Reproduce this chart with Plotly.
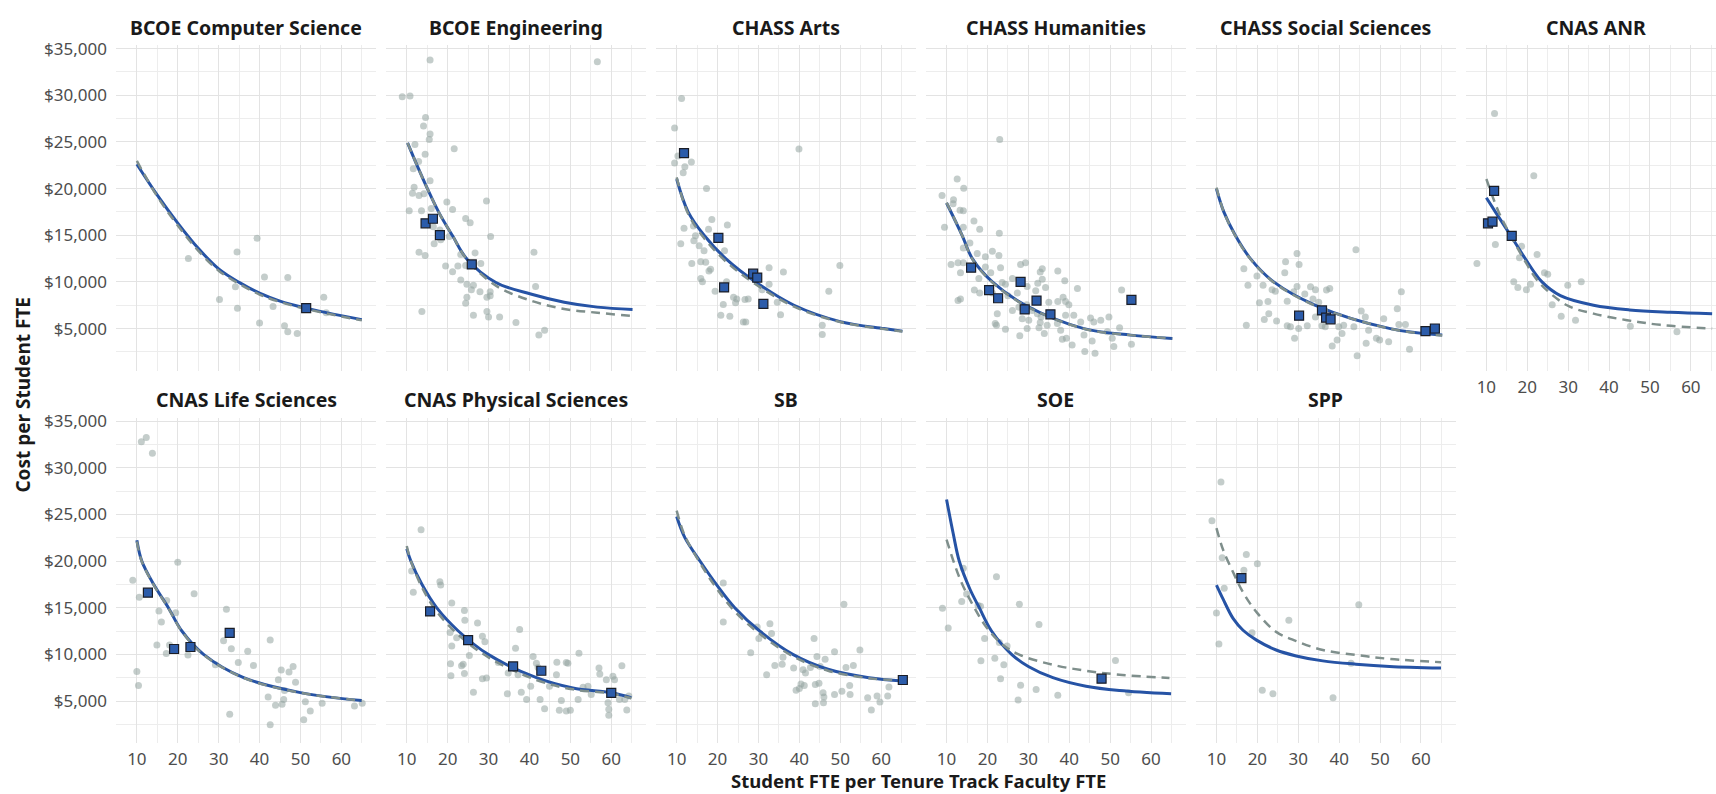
import plotly.graph_objects as go

# ---------------- data ----------------
panels = ["BCOE Computer Science", "BCOE Engineering", "CHASS Arts", "CHASS Humanities",
          "CHASS Social Sciences", "CNAS ANR", "CNAS Life Sciences", "CNAS Physical Sciences",
          "SB", "SOE", "SPP"]

x_ticks = [10, 20, 30, 40, 50, 60]
y_ticks = [5000, 10000, 15000, 20000, 25000, 30000, 35000]
y_tick_labels = ["$5,000", "$10,000", "$15,000", "$20,000", "$25,000", "$30,000", "$35,000"]

# BCOE Computer Science
cs_pts_x = [22.6, 34.5, 39.4, 41.2, 46.9, 30.2, 34.6, 34.1, 43.3, 40.0, 46.1, 46.9, 49.2, 55.7, 56.3]
cs_pts_y = [12507, 13211, 14690, 10536, 10466, 8107, 7192, 9480, 7368, 5608, 5291, 4658, 4482, 8354, 6700]
cs_sq_x = [51.4]
cs_sq_y = [7192]
cs_fit_x = [10, 15, 20, 25, 30, 35, 40, 45, 51.4, 58, 65]
cs_fit_y = [22610, 19300, 16300, 13600, 11400, 9950, 8800, 7950, 7190, 6550, 5960]
cs_alt_x = [10, 15, 20, 25, 30, 35, 40, 45, 51.4, 58, 65]
cs_alt_y = [22960, 19150, 16050, 13350, 11200, 9800, 8650, 7850, 7100, 6480, 5880]

# BCOE Engineering
eng_pts_x = [15.7, 56.6, 8.9, 10.8, 14.6, 14.1, 15.7, 15.5, 21.6, 12.0, 14.5, 11.6, 12.9, 15.7, 11.8,
             11.4, 13.0, 14.2, 10.6, 13.6, 16.0, 19.8, 21.2, 29.5, 24.4, 25.5, 16.5, 18.1, 16.7, 18.3,
             20.4, 30.5, 13.0, 14.5, 23.2, 26.7, 41.1, 19.5, 21.2, 22.5, 24.4, 28.1, 23.2, 24.7, 26.3,
             25.8, 27.9, 30.4, 29.6, 30.4, 24.7, 24.4, 41.5, 13.7, 26.3, 29.6, 30.0, 32.7, 36.7, 43.7, 42.3]
eng_pts_y = [33768, 33592, 29826, 29931, 27608, 26693, 25848, 25250, 24264, 24722, 23666, 22117, 22890,
             20850, 20146, 19512, 19265, 19442, 17611, 17611, 17858, 18562, 17752, 18667, 16802, 16344,
             15922, 15570, 14091, 14514, 14866, 14866, 13176, 12824, 12930, 13106, 13176, 11698, 11099,
             11698, 11768, 11979, 10218, 9762, 9656, 9163, 8952, 8952, 8354, 8530, 8354, 7720, 9515,
             6840, 6418, 6840, 6242, 6242, 5643, 4834, 4306]
eng_sq_x = [14.6, 16.4, 18.1, 25.9]
eng_sq_y = [16274, 16766, 15006, 11874]
eng_fit_x = [10.2, 12.6, 15.1, 17.9, 21.2, 24.8, 31.8, 40.3, 48.5, 56.6, 65.2]
eng_fit_y = [24898, 22398, 19934, 17400, 14936, 12402, 9938, 8706, 7826, 7300, 7051]
eng_alt_x = [10.2, 12.6, 15.1, 17.9, 21.2, 24.8, 31.8, 40.3, 48.5, 56.6, 65.2]
eng_alt_y = [24898, 22398, 19934, 17400, 14936, 12350, 9600, 8000, 7100, 6700, 6350]

# CHASS Arts
arts_pts_x = [11.2, 9.5, 10.3, 9.5, 12.0, 13.6, 11.6, 17.3, 39.9, 11.8, 14.1, 18.6, 22.4, 17.8, 14.6,
              14.2, 11.0, 15.5, 16.7, 21.7, 13.7, 15.9, 17.1, 17.9, 18.3, 32.6, 36.1, 49.9, 15.9, 16.3,
              22.2, 19.4, 24.7, 23.9, 26.7, 27.5, 32.6, 30.9, 21.4, 24.4, 34.6, 47.2, 20.8, 23.0, 26.3,
              26.9, 35.4, 45.6, 45.6]
arts_pts_y = [29650, 26482, 23490, 22750, 22328, 22856, 21694, 20005, 24229, 15746, 15992, 16696, 16098,
              15640, 14936, 14408, 14091, 13880, 13352, 13352, 11979, 12155, 12120, 11170, 11346, 11522,
              11064, 11768, 10360, 10008, 10008, 8987, 8178, 8354, 8107, 8178, 9762, 9163, 7579, 7755,
              7826, 8987, 6418, 6312, 5714, 5714, 6488, 5362, 4376]
arts_sq_x = [11.8, 20.2, 21.6, 28.7, 29.7, 31.2]
arts_sq_y = [23806, 14725, 9410, 10888, 10466, 7650]
arts_fit_x = [10, 12.8, 16.7, 22.0, 29.3, 38.7, 50, 60.7, 65.2]
arts_fit_y = [21026, 17500, 15000, 12500, 10000, 7500, 5750, 5000, 4728]
arts_alt_x = [10, 12.8, 16.7, 22.0, 29.3, 38.7, 50, 60.7, 65.2]
arts_alt_y = [21200, 17300, 14700, 12200, 9750, 7350, 5700, 4950, 4700]

# CHASS Humanities
hum_pts_x = [23.0, 12.6, 14.2, 8.9, 11.7, 11.6, 13.3, 14.1, 16.7, 9.5, 14.1, 18.1, 22.9, 15.7, 21.2,
             22.8, 17.5, 19.5, 14.1, 11.1, 12.8, 14.1, 19.5, 23.2, 33.4, 28.1, 29.3, 32.9, 37.2, 13.4,
             17.9, 20.8, 23.6, 24.4, 26.1, 29.7, 32.3, 33.4, 34.2, 38.9, 42.0, 52.8, 16.8, 18.1, 21.2,
             25.0, 27.3, 31.8, 35.0, 37.2, 38.5, 39.1, 39.9, 12.8, 13.4, 22.4, 26.1, 27.7, 29.6, 30.9,
             32.2, 33.1, 28.5, 30.1, 32.9, 34.6, 33.9, 37.1, 39.1, 41.1, 42.8, 45.2, 46.0, 47.7, 49.7,
             21.9, 22.2, 24.4, 27.9, 29.7, 32.6, 37.9, 38.3, 39.3, 40.7, 43.6, 45.6, 49.3, 50.5, 50.9,
             52.3, 55.2, 43.8, 46.3]
hum_pts_y = [25250, 21026, 20040, 19266, 18808, 18386, 17682, 17611, 16520, 15851, 15851, 15640, 15218,
             14162, 13282, 12824, 13035, 12683, 13634, 11874, 12050, 12050, 11592, 11522, 11400, 11874,
             12050, 11064, 11170, 10994, 10360, 10994, 9938, 9762, 10360, 9515, 9866, 10290, 9410, 10114,
             9304, 9128, 9128, 8811, 8811, 8530, 8811, 9058, 7826, 7896, 8354, 7896, 7544, 8002, 8178,
             6594, 6946, 7298, 7544, 6946, 6594, 6242, 6066, 5890, 5643, 5362, 4482, 5538, 6418, 6418,
             5714, 6136, 5714, 5890, 6242, 5538, 5362, 4939, 4235, 5010, 5080, 4834, 3848, 3954, 3250,
             4306, 3672, 4658, 3954, 3074, 5080, 3320, 2545, 2370]
hum_sq_x = [16.0, 20.4, 22.6, 28.1, 29.1, 32.0, 35.4, 55.2]
hum_sq_y = [11522, 9128, 8248, 10008, 7051, 8002, 6523, 8072]
hum_fit_x = [10, 13.8, 16.3, 21.2, 29.3, 43.6, 55, 65.2]
hum_fit_y = [18456, 15000, 12500, 10000, 7500, 5000, 4300, 3950]
hum_alt_x = [10, 13.8, 16.3, 21.2, 29.3, 43.6, 55, 65.2]
hum_alt_y = [18500, 15000, 12450, 9950, 7450, 4980, 4300, 3950]

# CHASS Social Sciences
soc_pts_x = [44.1, 29.7, 26.9, 30.2, 26.7, 16.7, 19.9, 17.7, 21.4, 23.6, 24.4, 29.7, 28.9, 33.0, 34.2,
             36.9, 37.7, 31.6, 27.3, 33.6, 35.0, 55.2, 54.2, 45.4, 20.5, 22.6, 22.8, 21.7, 24.7, 17.3,
             27.3, 28.1, 30.1, 32.2, 34.2, 35.8, 36.6, 39.9, 41.1, 43.6, 46.4, 47.2, 50.9, 54.6, 56.2,
             40.7, 39.5, 38.3, 29.1, 46.6, 49.1, 49.9, 52.1, 57.2, 44.4]
soc_pts_y = [13458, 13035, 12155, 11874, 10994, 11416, 10642, 9656, 9656, 9163, 8987, 9515, 8952, 9480,
             9163, 9128, 9304, 8706, 7931, 8178, 7826, 8952, 7122, 6875, 7755, 7896, 6594, 5960, 5819,
             5362, 5291, 5186, 5010, 5291, 6242, 5291, 5186, 5186, 5362, 5186, 6242, 4834, 6066, 5432,
             5432, 4482, 3778, 3144, 3954, 3426, 3954, 3778, 3602, 2792, 2088]
soc_sq_x = [30.2, 35.8, 36.8, 37.9, 61.1, 63.4]
soc_sq_y = [6382, 6946, 6171, 5995, 4728, 5010]
soc_fit_x = [10, 11.8, 14.6, 18.3, 24.0, 34.2, 52.5, 65.2]
soc_fit_y = [19970, 17500, 15000, 12500, 10000, 7500, 5000, 4306]
soc_alt_x = [10, 11.8, 14.6, 18.3, 24.0, 34.2, 52.5, 65.2]
soc_alt_y = [20100, 17500, 14950, 12450, 9950, 7450, 4980, 4250]

# CNAS ANR
anr_pts_x = [12.0, 21.6, 12.2, 7.7, 18.6, 18.1, 22.4, 24.2, 25.0, 16.7, 17.7, 19.8, 20.8, 29.9, 33.2,
             26.1, 28.3, 31.8, 45.2, 56.6]
anr_pts_y = [28030, 21378, 14021, 11979, 13810, 12578, 12930, 10994, 10818, 10008, 9410, 9163, 9762,
             9656, 10008, 7544, 6312, 5890, 5256, 4658]
anr_sq_x = [11.9, 10.4, 11.5, 16.2]
anr_sq_y = [19758, 16274, 16450, 14936]
anr_fit_x = [10, 12.2, 15.9, 19.5, 23.6, 28.1, 36.2, 45, 55, 65.2]
anr_fit_y = [19019, 17500, 15000, 12500, 10000, 8530, 7500, 7000, 6750, 6594]
anr_alt_x = [10, 13.0, 15.9, 19.1, 22.8, 29.7, 36.2, 44.4, 52.5, 65.2]
anr_alt_y = [21026, 17500, 15000, 12500, 10000, 7500, 6600, 5900, 5400, 5000]

# CNAS Life Sciences
life_pts_x = [11.1, 12.3, 13.8, 20.0, 9.0, 10.6, 24.0, 17.3, 15.4, 19.5, 16.0, 31.9, 31.2, 42.6, 14.9,
              18.0, 17.2, 22.5, 33.1, 37.1, 34.8, 38.5, 29.2, 10.0, 10.4, 45.3, 47.2, 48.2, 44.6, 48.8,
              46.1, 42.1, 43.9, 45.5, 45.9, 51.2, 52.4, 55.3, 50.8, 42.6, 32.7, 63.2, 65.1]
life_pts_y = [32776, 33235, 31541, 19856, 17950, 16115, 16503, 15762, 14633, 14457, 13467, 14844, 11455,
              11526, 10996, 10996, 10078, 9937, 10608, 10326, 9125, 8807, 8878, 8172, 6654, 8313, 8101,
              8701, 7289, 7007, 6124, 5418, 4536, 4642, 5172, 4924, 3936, 4748, 2983, 2453, 3583, 4466,
              4748]
life_sq_x = [12.7, 19.1, 23.1, 32.7]
life_sq_y = [16609, 10573, 10785, 12303]
life_fit_x = [10, 11.2, 14.1, 17.7, 21.0, 26.3, 36.1, 50, 65]
life_fit_y = [22221, 20000, 17500, 15000, 12500, 10000, 7500, 5900, 5050]
life_alt_x = [10, 11.2, 14.1, 17.7, 21.0, 26.3, 36.1, 50, 65]
life_alt_y = [22100, 19950, 17450, 14950, 12450, 9950, 7480, 5880, 5050]

# CNAS Physical Sciences
phys_pts_x = [13.5, 11.2, 11.6, 18.1, 18.3, 21.0, 24.1, 24.2, 27.3, 20.6, 22.2, 28.5, 29.1, 37.6, 21.0,
              25.3, 36.6, 40.9, 52.1, 20.7, 23.8, 23.4, 24.1, 20.8, 32.4, 28.5, 29.5, 26.3, 34.8, 37.2,
              34.6, 38.0, 39.3, 40.3, 41.7, 42.1, 42.6, 43.7, 44.9, 46.6, 46.7, 49.0, 49.4, 47.8, 47.3,
              49.0, 50.0, 51.9, 53.1, 54.3, 55.1, 57.0, 57.2, 58.8, 60.4, 60.8, 62.6, 59.2, 59.4, 59.4,
              63.8, 64.3, 63.3, 62.0]
phys_pts_y = [23351, 18939, 16644, 17774, 17420, 15514, 14702, 13643, 13361, 12337, 11773, 11949, 11349,
              12655, 10890, 9866, 10643, 9760, 10114, 8984, 8949, 8772, 7960, 7713, 9125, 7395, 7466,
              5948, 7996, 7819, 5772, 5948, 5172, 6583, 9054, 8596, 5172, 4184, 6583, 7819, 9160, 9125,
              9054, 5066, 4007, 3936, 4007, 5172, 6478, 6583, 5701, 8525, 7890, 7290, 7643, 7290, 8772,
              4818, 4113, 3477, 4042, 5525, 5172, 5172]
phys_sq_x = [15.7, 25.0, 36.0, 42.9, 60.0]
phys_sq_y = [14597, 11526, 8701, 8243, 5878]
phys_fit_x = [10, 11.0, 13.7, 17.3, 22.6, 29.9, 41.7, 50.6, 60, 64.9]
phys_fit_y = [21304, 20000, 17500, 15000, 12500, 10000, 7500, 6400, 5880, 5350]
phys_alt_x = [10, 11.0, 13.7, 17.3, 22.6, 29.9, 41.7, 50.6, 60, 64.9]
phys_alt_y = [21600, 20000, 17200, 14600, 12100, 9700, 7250, 6250, 5800, 5300]

# SB
sb_pts_x = [21.4, 21.4, 50.9, 32.8, 29.7, 33.2, 30.1, 28.1, 36.0, 34.0, 35.8, 32.0, 38.6, 40.9, 41.5,
            42.7, 43.6, 44.3, 45.1, 46.3, 48.6, 51.4, 53.2, 54.8, 39.2, 40.0, 40.4, 41.2, 43.9, 44.8,
            45.8, 46.0, 43.9, 45.9, 48.6, 50.4, 52.3, 52.4, 56.7, 57.6, 59.0, 59.7, 61.6, 61.9]
sb_pts_y = [17632, 13467, 15373, 13290, 12938, 12232, 11702, 10184, 9690, 8807, 8949, 7819, 8525, 8349,
            7996, 8596, 11702, 9760, 8701, 9478, 10290, 8596, 8807, 10467, 6160, 6336, 6830, 6654, 6760,
            6901, 5877, 5418, 4712, 4818, 5701, 6054, 6654, 5701, 5348, 4042, 5525, 4889, 5525, 6513]
sb_sq_x = [65.3]
sb_sq_y = [7254]
sb_fit_x = [10, 12.0, 15.7, 19.7, 24.2, 30.3, 38.4, 47, 57.0, 65.3]
sb_fit_y = [24763, 22500, 20000, 17500, 15000, 12500, 10000, 8400, 7500, 7150]
sb_alt_x = [10, 12.0, 15.7, 19.7, 24.2, 30.3, 38.4, 47, 57.0, 65.3]
sb_alt_y = [25400, 22700, 19800, 17100, 14600, 12200, 9800, 8250, 7450, 7200]

# SOE
soe_pts_x = [14.1, 22.2, 9.0, 13.7, 17.7, 18.3, 27.8, 14.9, 10.4, 32.6, 19.3, 22.9, 24.8, 18.4, 21.8,
             24.0, 23.2, 51.3, 28.1, 31.9, 37.2, 27.5, 54.5]
soe_pts_y = [19221, 18303, 14950, 15656, 15232, 15162, 15373, 16468, 12832, 13185, 11702, 11279, 10890,
             9302, 9584, 8878, 7396, 9337, 6690, 6231, 5630, 5101, 5878]
soe_sq_x = [47.9]
soe_sq_y = [7396]
soe_fit_x = [10, 11.6, 13.1, 15.7, 18.0, 21.0, 25.9, 30, 36.0, 44.1, 52.3, 64.9]
soe_fit_y = [26599, 23000, 20000, 17000, 15000, 12500, 10000, 8700, 7500, 6584, 6125, 5772]
soe_alt_x = [10, 13.3, 16.5, 19.7, 23.8, 27.9, 36.0, 44.1, 52.3, 64.5]
soe_alt_y = [22292, 18056, 15232, 12938, 10996, 9937, 8878, 8243, 7819, 7466]

# SPP
spp_pts_x = [11.1, 8.9, 11.4, 17.3, 20.0, 16.7, 11.9, 10.0, 27.7, 44.8, 18.7, 10.6, 42.9, 21.2, 23.8, 38.5]
spp_pts_y = [28470, 24304, 20351, 20704, 19715, 19009, 17068, 14420, 13643, 15303, 12302, 11102, 9054,
             6160, 5772, 5348]
spp_sq_x = [16.1]
spp_sq_y = [18162]
spp_fit_x = [10, 11.6, 14.1, 16.5, 19.8, 24.6, 29.5, 36.0, 44.1, 52.3, 64.9]
spp_fit_y = [17421, 15939, 13820, 12585, 11526, 10467, 9831, 9302, 8949, 8701, 8525]
spp_alt_x = [10, 11.6, 14.1, 16.5, 19.8, 24.6, 29.5, 36.0, 44.1, 52.3, 64.9]
spp_alt_y = [23528, 21234, 18762, 16644, 14527, 12409, 11420, 10467, 9937, 9514, 9160]

# ---------------- assemble ----------------
panel_data = [
    (cs_pts_x, cs_pts_y, cs_sq_x, cs_sq_y, cs_fit_x, cs_fit_y, cs_alt_x, cs_alt_y),
    (eng_pts_x, eng_pts_y, eng_sq_x, eng_sq_y, eng_fit_x, eng_fit_y, eng_alt_x, eng_alt_y),
    (arts_pts_x, arts_pts_y, arts_sq_x, arts_sq_y, arts_fit_x, arts_fit_y, arts_alt_x, arts_alt_y),
    (hum_pts_x, hum_pts_y, hum_sq_x, hum_sq_y, hum_fit_x, hum_fit_y, hum_alt_x, hum_alt_y),
    (soc_pts_x, soc_pts_y, soc_sq_x, soc_sq_y, soc_fit_x, soc_fit_y, soc_alt_x, soc_alt_y),
    (anr_pts_x, anr_pts_y, anr_sq_x, anr_sq_y, anr_fit_x, anr_fit_y, anr_alt_x, anr_alt_y),
    (life_pts_x, life_pts_y, life_sq_x, life_sq_y, life_fit_x, life_fit_y, life_alt_x, life_alt_y),
    (phys_pts_x, phys_pts_y, phys_sq_x, phys_sq_y, phys_fit_x, phys_fit_y, phys_alt_x, phys_alt_y),
    (sb_pts_x, sb_pts_y, sb_sq_x, sb_sq_y, sb_fit_x, sb_fit_y, sb_alt_x, sb_alt_y),
    (soe_pts_x, soe_pts_y, soe_sq_x, soe_sq_y, soe_fit_x, soe_fit_y, soe_alt_x, soe_alt_y),
    (spp_pts_x, spp_pts_y, spp_sq_x, spp_sq_y, spp_fit_x, spp_fit_y, spp_alt_x, spp_alt_y),
]

W, H = 1716, 794
FONT = "Noto Sans"
PX_PER_UNIT = 4.09
X0 = 4.9
Y_RANGE = [504, 35352]
col_left = [116 + 269.9 * k for k in range(6)]
panel_w = 260
row_top = [36.7, 413.4]
row_bot = [365.7, 742.4]

POINT_COLOR = "rgba(148,164,161,0.55)"
LINE_BLUE = "#2653A5"
DASH_GRAY = "#7F8F8C"
SQ_FILL = "#2C5CAA"

fig = go.Figure()
annotations = []
grid_major = "#E3E3E3"
grid_minor = "#EDEDED"

for i, name in enumerate(panels):
    r, c = divmod(i, 6)
    sfx = "" if i == 0 else str(i + 1)
    px_, py_, sx, sy, fx, fy, ax_, ay_ = panel_data[i]
    xa, ya = "x" + sfx, "y" + sfx

    fig.add_trace(go.Scatter(x=px_, y=py_, mode="markers", xaxis=xa, yaxis=ya,
                             marker=dict(size=7, color=POINT_COLOR, line=dict(width=0)),
                             showlegend=False, hoverinfo="skip"))
    fig.add_trace(go.Scatter(x=fx, y=fy, mode="lines", xaxis=xa, yaxis=ya,
                             line=dict(color=LINE_BLUE, width=3, shape="spline", smoothing=1.0),
                             showlegend=False, hoverinfo="skip"))
    fig.add_trace(go.Scatter(x=ax_, y=ay_, mode="lines", xaxis=xa, yaxis=ya,
                             line=dict(color=DASH_GRAY, width=2.5, dash="9px,6px",
                                       shape="spline", smoothing=1.0),
                             showlegend=False, hoverinfo="skip"))
    fig.add_trace(go.Scatter(x=sx, y=sy, mode="markers", xaxis=xa, yaxis=ya,
                             marker=dict(size=9, symbol="square", color=SQ_FILL,
                                         line=dict(width=1.2, color="#1A1D26")),
                             showlegend=False, hoverinfo="skip"))

    left = col_left[c]
    right = min(left + panel_w, W)
    xr = [X0, X0 + (right - left) / PX_PER_UNIT]
    show_x_labels = (r == 1) or (i == 5)
    fig.layout["xaxis" + sfx] = dict(
        domain=[left / W, right / W], anchor=ya, range=xr,
        tickmode="array", tickvals=x_ticks, showticklabels=show_x_labels,
        tickfont=dict(family=FONT, size=17, color="#4D4D4D"), ticklabelstandoff=4,
        showgrid=True, gridcolor=grid_major, gridwidth=1.2,
        minor=dict(tickmode="array", tickvals=[5, 15, 25, 35, 45, 55, 65],
                   showgrid=True, gridcolor=grid_minor, gridwidth=0.9),
        zeroline=False, showline=False, ticks="", fixedrange=True)
    fig.layout["yaxis" + sfx] = dict(
        domain=[1 - row_bot[r] / H, 1 - row_top[r] / H], anchor=xa, range=Y_RANGE,
        tickmode="array", tickvals=y_ticks, ticktext=y_tick_labels,
        showticklabels=(c == 0),
        tickfont=dict(family=FONT, size=17, color="#4D4D4D"), ticklabelstandoff=8,
        showgrid=True, gridcolor=grid_major, gridwidth=1.2,
        minor=dict(tickmode="array",
                   tickvals=[2500, 7500, 12500, 17500, 22500, 27500, 32500],
                   showgrid=True, gridcolor=grid_minor, gridwidth=0.9),
        zeroline=False, showline=False, ticks="", fixedrange=True)

    title_y = 19 if r == 0 else 395
    annotations.append(dict(text="<b>" + name + "</b>", x=(left + panel_w / 2) / W,
                            y=1 - title_y / H, xref="paper", yref="paper",
                            xanchor="center", yanchor="middle", showarrow=False,
                            font=dict(family=FONT, size=19.5, color="#1A1A1A")))

annotations.append(dict(text="<b>Cost per Student FTE</b>", x=23 / W, y=1 - 390 / H,
                        xref="paper", yref="paper", textangle=-90, showarrow=False,
                        xanchor="center", yanchor="middle",
                        font=dict(family=FONT, size=19, color="#1A1A1A")))
annotations.append(dict(text="<b>Student FTE per Tenure Track Faculty FTE</b>", x=918 / W,
                        y=0, xref="paper", yref="paper", showarrow=False,
                        xanchor="center", yanchor="bottom", borderpad=0,
                        font=dict(family=FONT, size=18.5, color="#1A1A1A")))

fig.update_layout(width=W, height=H, margin=dict(l=0, r=0, t=0, b=0),
                  paper_bgcolor="white", plot_bgcolor="white",
                  annotations=annotations, showlegend=False,
                  font=dict(family=FONT))

fig.write_html("out.html", config={"displayModeBar": False},
               post_script="document.body.style.margin='0px';document.body.style.overflow='hidden';")
